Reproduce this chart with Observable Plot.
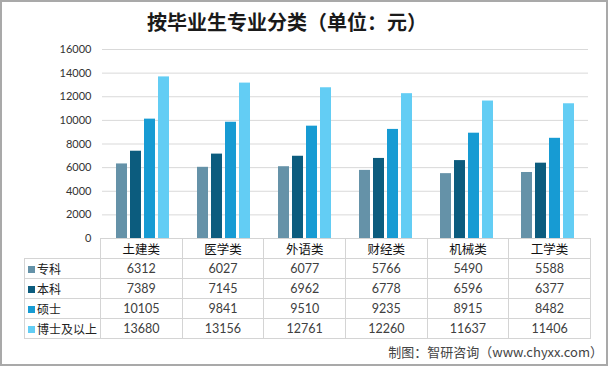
<!DOCTYPE html>
<html>
<head>
<meta charset="utf-8">
<script src="https://cdn.jsdelivr.net/npm/d3@7"></script>
<script src="https://cdn.jsdelivr.net/npm/@observablehq/plot@0.6"></script>
<style>
  html, body { margin: 0; padding: 0; background: #fff; }
  #wrap { position: relative; width: 608px; height: 366px; overflow: hidden; background: #fff;
          font-family: Lato, "Noto Sans CJK SC", sans-serif; }
  #frame { position: absolute; left: 0; top: 0; width: 608px; height: 366px; box-sizing: border-box;
           border: 2px solid #a9a9a9; pointer-events: none; }
  #title { position: absolute; left: 0; width: 574px; top: 7px; text-align: center;
           font-family: "Noto Sans CJK SC", sans-serif; font-weight: bold; font-size: 20px; color: #1a1a1a; }
  #chart { position: absolute; left: 0; top: 0; }
  #tbl { position: absolute; left: 24px; top: 238px; border-collapse: collapse; table-layout: fixed; }
  #tbl td { border: 1px solid #d4d4d4; padding: 0; height: 19px; text-align: center;
            font-size: 12.5px; color: #404040; white-space: nowrap; overflow: visible; }
  #tbl td.lab { text-align: left; font-family: "Noto Sans CJK SC", sans-serif; color: #222; font-size: 12px; padding-left: 3px; }
  #tbl td.hd { font-family: "Noto Sans CJK SC", sans-serif; color: #111; font-size: 12.5px; }
  #tbl td.blank { border: none; }
  .sw { display: inline-block; width: 7px; height: 7px; margin-right: 2px; vertical-align: 1px; }
  #caption { position: absolute; right: 5px; top: 342px; font-family: "Noto Sans CJK SC", sans-serif;
             font-size: 13px; color: #444; }
</style>
</head>
<body>
<div id="wrap">
  <div id="chart"></div>
  <div id="title">按毕业生专业分类（单位：元）</div>
  <table id="tbl"></table>
  <div id="caption">制图：智研咨询（www.chyxx.com）</div>
  <div id="frame"></div>
</div>
<script>
const categories = ["土建类", "医学类", "外语类", "财经类", "机械类", "工学类"];
const seriesNames = ["专科", "本科", "硕士", "博士及以上"];
const zhuanke = [6312, 6027, 6077, 5766, 5490, 5588];
const benke = [7389, 7145, 6962, 6778, 6596, 6377];
const shuoshi = [10105, 9841, 9510, 9235, 8915, 8482];
const boshi = [13680, 13156, 12761, 12260, 11637, 11406];
const yTicks = [0, 2000, 4000, 6000, 8000, 10000, 12000, 14000, 16000];
const colors = ["#6592a8", "#0c5c7e", "#179bd3", "#63cdf4"];

const seriesValues = [zhuanke, benke, shuoshi, boshi];
const data = categories.flatMap((c, i) =>
  seriesNames.map((s, j) => ({category: c, series: s, value: seriesValues[j][i]})));

const plot = Plot.plot({
  width: 608,
  height: 252,
  marginLeft: 100,
  marginRight: 18,
  marginTop: 49,
  marginBottom: 14,
  style: {fontFamily: "Lato, 'Noto Sans CJK SC', sans-serif", fontSize: "11px", color: "#333"},
  fx: {domain: categories, padding: 0, axis: null},
  x: {domain: seriesNames, paddingInner: 0.2, paddingOuter: 0.88, axis: null},
  y: {domain: [0, 16000], ticks: yTicks},
  color: {domain: seriesNames, range: colors},
  marks: [
    Plot.ruleY(yTicks.filter(d => d > 0), {stroke: "#d9d9d9", strokeOpacity: 1}),
    Plot.axisY({ticks: yTicks, tickSize: 0, tickPadding: 11, label: null, tickFormat: d => String(d), fill: "#333"}),
    Plot.barY(data, {fx: "category", x: "series", y: "value", fill: "series"})
  ]
});
document.getElementById("chart").appendChild(plot);

// data table aligned with the plot's categories
const tbl = document.getElementById("tbl");
const colW = (590 - 100) / categories.length;
const cg = document.createElement("colgroup");
const c0 = document.createElement("col"); c0.style.width = "76px"; cg.appendChild(c0);
categories.forEach(() => { const c = document.createElement("col"); c.style.width = colW + "px"; cg.appendChild(c); });
tbl.appendChild(cg);
tbl.style.width = (76 + colW * categories.length) + "px";
const hr = document.createElement("tr");
const blank = document.createElement("td"); blank.className = "blank"; hr.appendChild(blank);
categories.forEach(c => { const td = document.createElement("td"); td.className = "hd"; td.textContent = c; hr.appendChild(td); });
tbl.appendChild(hr);
seriesNames.forEach((s, j) => {
  const tr = document.createElement("tr");
  const lab = document.createElement("td"); lab.className = "lab";
  const sw = document.createElement("span"); sw.className = "sw"; sw.style.background = colors[j];
  lab.appendChild(sw); lab.appendChild(document.createTextNode(s));
  tr.appendChild(lab);
  seriesValues[j].forEach(v => { const td = document.createElement("td"); td.textContent = v; tr.appendChild(td); });
  tbl.appendChild(tr);
});
</script>
</body>
</html>
